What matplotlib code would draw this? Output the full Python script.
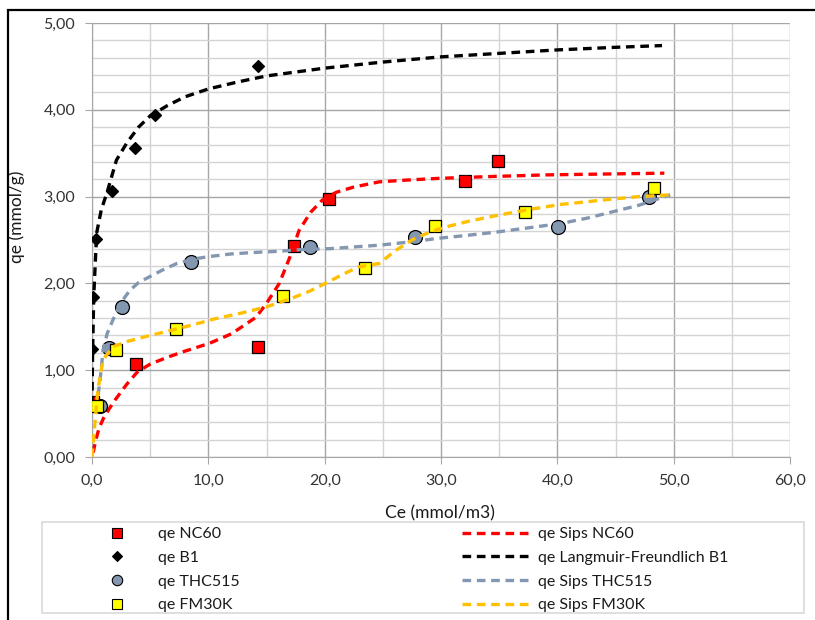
import matplotlib
matplotlib.use("Agg")
import matplotlib.pyplot as plt
from matplotlib.lines import Line2D
from matplotlib.patches import Rectangle
from matplotlib.ticker import MultipleLocator, FuncFormatter

plt.rcParams["font.family"] = ["Lato", "DejaVu Sans"]

# measured points
nc60_x = [0.1, 3.8, 14.3, 17.4, 20.4, 32.1, 34.9]
nc60_y = [0.63, 1.07, 1.27, 2.43, 2.97, 3.18, 3.41]
b1_x = [0.0, 0.05, 0.35, 1.7, 3.7, 5.4, 14.3]
b1_y = [1.24, 1.84, 2.51, 3.07, 3.56, 3.94, 4.51]
thc_x = [0.7, 1.5, 2.6, 8.5, 18.7, 27.8, 40.1, 47.9]
thc_y = [0.59, 1.26, 1.73, 2.25, 2.42, 2.53, 2.65, 3.00]
fm_x = [0.4, 2.1, 7.2, 16.4, 23.5, 29.5, 37.2, 48.3]
fm_y = [0.59, 1.23, 1.47, 1.86, 2.18, 2.66, 2.82, 3.10]

# fitted curves
sips_nc60_x = [0.1, 0.3, 0.6, 1.0, 1.5, 2.0, 3.0, 3.9, 5.0, 6.5, 8.0, 10.1, 12.0, 14.1,
               15.0, 16.1, 17.0, 17.8, 18.8, 19.8, 21.0, 22.5, 24.7, 27.0, 29.8, 34.0,
               39.0, 44.0, 49.2]
sips_nc60_y = [0.05, 0.18, 0.33, 0.45, 0.56, 0.66, 0.84, 0.98, 1.07, 1.15, 1.22, 1.31,
               1.42, 1.61, 1.77, 2.0, 2.3, 2.61, 2.82, 2.96, 3.05, 3.11, 3.17, 3.19,
               3.21, 3.23, 3.25, 3.26, 3.27]
lf_b1_x = [0.0, 0.05, 0.15, 0.4, 0.8, 1.3, 2.1, 3.0, 4.0, 5.0, 6.5, 8.0, 10.0, 12.5, 15.0,
           20.0, 25.0, 30.0, 35.0, 40.0, 45.0, 49.0]
lf_b1_y = [0.6, 1.2, 1.85, 2.58, 2.85, 3.05, 3.42, 3.62, 3.80, 3.93, 4.05, 4.15, 4.24,
           4.32, 4.39, 4.48, 4.55, 4.61, 4.65, 4.69, 4.72, 4.74]
sips_thc_x = [0.35, 0.7, 0.95, 1.3, 1.8, 2.5, 3.25, 4.0, 5.0, 6.0, 7.3, 8.7, 10.1, 12.0,
              14.4, 16.1, 18.0, 20.4, 22.5, 24.7, 27.5, 29.8, 32.0, 34.7, 37.5, 40.3,
              42.5, 44.6, 47.0, 49.7]
sips_thc_y = [0.55, 0.89, 1.23, 1.42, 1.58, 1.78, 1.92, 2.01, 2.08, 2.15, 2.23, 2.28,
              2.31, 2.34, 2.36, 2.37, 2.39, 2.40, 2.42, 2.44, 2.48, 2.52, 2.55, 2.59,
              2.64, 2.69, 2.75, 2.82, 2.90, 3.02]
sips_fm_x = [0.0, 0.25, 0.5, 0.95, 1.8, 3.0, 4.4, 6.5, 8.6, 10.5, 12.9, 15.0, 17.2, 18.7,
             20.2, 21.5, 22.9, 24.7, 26.0, 27.5, 29.0, 30.4, 32.5, 34.7, 37.5, 40.3,
             42.5, 44.6, 47.0, 49.7]
sips_fm_y = [0.0, 0.39, 0.77, 1.12, 1.27, 1.33, 1.38, 1.45, 1.52, 1.59, 1.66, 1.73,
             1.83, 1.91, 2.01, 2.10, 2.19, 2.23, 2.37, 2.50, 2.59, 2.65, 2.72, 2.78,
             2.85, 2.91, 2.94, 2.97, 3.00, 3.02]

RED = "#FF0000"
GREY = "#8497B0"
YELLOW = "#FFFF00"
ORANGE = "#FFC000"
DASH = (0, (2.6, 1.7))

fig = plt.figure(figsize=(8.15, 6.2), dpi=100)
ax = fig.add_axes([92 / 815, 1 - 457 / 620, (790 - 92) / 815, (457 - 23) / 620])

mk = dict(markeredgecolor="black", markeredgewidth=0.9, linestyle="none")
ax.plot(nc60_x, nc60_y, marker="s", markersize=9, markerfacecolor=RED, zorder=3, **mk)
ax.plot(sips_nc60_x, sips_nc60_y, color=RED, lw=2.4, linestyle=DASH, zorder=3)
ax.plot(b1_x, b1_y, marker="D", markersize=6.5, markerfacecolor="black", zorder=3, **mk)
ax.plot(lf_b1_x, lf_b1_y, color="black", lw=2.4, linestyle=DASH, zorder=3)
ax.plot(thc_x, thc_y, marker="o", markersize=10, markerfacecolor=GREY, zorder=3, **mk)
ax.plot(sips_thc_x, sips_thc_y, color=GREY, lw=2.4, linestyle=DASH, zorder=3)
ax.plot(fm_x, fm_y, marker="s", markersize=9, markerfacecolor=YELLOW, zorder=3, **mk)
ax.plot(sips_fm_x, sips_fm_y, color=ORANGE, lw=2.4, linestyle=DASH, zorder=3)

ax.set_xlim(0, 60)
ax.set_ylim(0, 5)
ax.xaxis.set_major_locator(MultipleLocator(10))
ax.xaxis.set_minor_locator(MultipleLocator(5))
ax.yaxis.set_major_locator(MultipleLocator(1))
ax.yaxis.set_minor_locator(MultipleLocator(0.2))
ax.xaxis.set_major_formatter(FuncFormatter(lambda v, p: f"{v:.1f}".replace(".", ",")))
ax.yaxis.set_major_formatter(FuncFormatter(lambda v, p: f"{v:.2f}".replace(".", ",")))
ax.grid(which="major", color="#A6A6A6", lw=1.0)
ax.grid(which="minor", color="#D4D4D4", lw=1.0)
ax.set_axisbelow(True)
for s in ["top", "right"]:
    ax.spines[s].set_visible(False)
for s in ["left", "bottom"]:
    ax.spines[s].set_color("#A6A6A6")
ax.tick_params(which="major", length=5, color="#A6A6A6", labelsize=11.5,
               labelcolor="#333333", pad=7)
ax.tick_params(which="minor", length=0)

ax.set_xlabel("Ce (mmol/m3)", fontsize=12.5, color="#1a1a1a")
ax.xaxis.set_label_coords((440 - 92) / 698, -(505 - 457) / 434)
ax.set_ylabel("qe (mmol/g)", fontsize=12.5, color="#1a1a1a")
ax.yaxis.set_label_coords(-(92 - 25) / 698, (457 - 217) / 434)

# legend frame and two legend columns
fig.patches.append(Rectangle((42 / 815, 1 - 613 / 620), (804 - 42) / 815, (613 - 522) / 620,
                             transform=fig.transFigure, fill=False, edgecolor="#D9D9D9", lw=1.2))
leg_mk = dict(markeredgecolor="black", markeredgewidth=0.8, linestyle="none")
h1 = [Line2D([], [], marker="s", markersize=7, markerfacecolor=RED, **leg_mk),
      Line2D([], [], marker="D", markersize=5, markerfacecolor="black", **leg_mk),
      Line2D([], [], marker="o", markersize=7.5, markerfacecolor=GREY, **leg_mk),
      Line2D([], [], marker="s", markersize=7, markerfacecolor=YELLOW, **leg_mk)]
l1 = ["qe NC60", "qe B1", "qe THC515", "qe FM30K"]
h2 = [Line2D([], [], color=c, lw=2.4, linestyle=DASH) for c in [RED, "black", GREY, ORANGE]]
l2 = ["qe Sips NC60", "qe Langmuir-Freundlich B1", "qe Sips THC515", "qe Sips FM30K"]

common = dict(frameon=False, fontsize=11.5, labelspacing=0.6, handlelength=4.4,
              handletextpad=0.33, borderpad=0, borderaxespad=0, loc="upper left",
              bbox_transform=fig.transFigure, labelcolor="#1a1a1a")
leg1 = fig.legend(h1, l1, bbox_to_anchor=(82 / 815, 1 - 527 / 620), **common)
leg2 = fig.legend(h2, l2, bbox_to_anchor=(462 / 815, 1 - 527 / 620), **common)

# outer chart border
fig.patches.append(Rectangle((8 / 815, -0.05), 1.1, 1 - 10 / 620 + 0.05,
                             transform=fig.transFigure, fill=False, edgecolor="black", lw=1.6))

fig.savefig("out.png", dpi=100)
